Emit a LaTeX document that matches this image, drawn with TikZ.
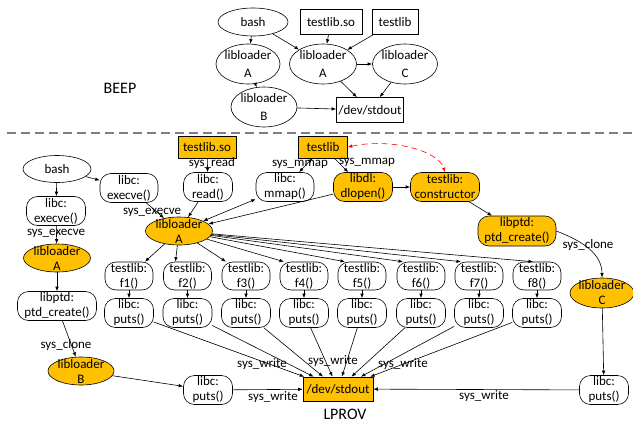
\documentclass[tikz,border=0pt]{standalone}
\usepackage{fontspec}
\setmainfont{Carlito}
\usetikzlibrary{arrows.meta,calc,shapes.geometric}
\definecolor{gold}{HTML}{FFC000}
\definecolor{sepgray}{HTML}{7F7F7F}
\tikzset{
  base/.style={draw=black, line width=0.6pt, font=\fontsize{13}{15}\selectfont, inner sep=0pt, align=center},
  ell/.style={base, ellipse, fill=white},
  stad/.style={base, rectangle, rounded corners=11pt, fill=white, minimum height=29pt},
  sqbox/.style={base, rectangle, fill=white, minimum height=24pt},
  goldfill/.style={fill=gold},
  txt/.style={font=\fontsize{13}{15}\selectfont, inner sep=0pt, align=center},
  toptxt/.style={font=\fontsize{13}{18}\selectfont, inner sep=0pt, align=center},
  title/.style={font=\fontsize{16}{18}\selectfont, inner sep=0pt},
  arr/.style={-{Latex[length=4.5pt,width=3.5pt]}, line width=0.6pt},
  darr/.style={{Latex[length=4.5pt,width=3.5pt]}-{Latex[length=4.5pt,width=3.5pt]}, line width=0.6pt},
}
\begin{document}
\begin{tikzpicture}[x=1pt,y=-1pt]
\useasboundingbox (0,0) rectangle (633,426);

% ---------------- BEEP (top) ----------------
\node[ell, minimum width=70pt, minimum height=28pt] (tbash) at (253,22) {};
\node[txt] (tbasht) at (tbash) {bash};
\node[sqbox, minimum width=62pt, minimum height=25pt] (tso) at (331,22) {testlib.so};
\node[sqbox, minimum width=46pt, minimum height=25pt] (ttl) at (395,22) {testlib};
\node[ell, minimum width=64pt, minimum height=40pt] (tA1) at (248,64) {};
\node[toptxt] (tA1t) at (tA1) {libloader\\A};
\node[ell, minimum width=67pt, minimum height=40pt] (tA2) at (323,64) {};
\node[toptxt] (tA2t) at (tA2) {libloader\\A};
\node[ell, minimum width=65pt, minimum height=40pt] (tC) at (405,64) {};
\node[toptxt] (tCt) at (tC) {libloader\\C};
\node[ell, minimum width=66pt, minimum height=40pt] (tB) at (264,107) {};
\node[toptxt] (tBt) at (tB) {libloader\\B};
\node[sqbox, minimum width=67pt, minimum height=25pt] (tout) at (370,110) {/dev/stdout};
\node[title] (beep) at (120,88) {BEEP};

\draw[arr] (tbash) -- (tA1);
\draw[arr] (tbash) -- (tA2);
\draw[arr] (tso) -- (tA2);
\draw[arr] (ttl) -- (tA2);
\draw[arr] (tA2) -- (tC);
\draw[arr] (tA1) -- (tB);
\draw[arr] (tB) -- (tout);
\draw[arr] (tA2) -- (tout);
\draw[arr] (tC) -- (tout);

% separator
\coordinate (sepL) at (7,133);
\coordinate (sepR) at (633,133);
\draw[sepgray, line width=1.2pt, dash pattern=on 9pt off 5pt] (sepL) -- (sepR);

% ---------------- LPROV (bottom) ----------------
\node[ell, minimum width=68pt, minimum height=27pt] (bash) at (57,169) {};
\node[txt] (basht) at (bash) {bash};
\node[stad, minimum width=59pt] (ex1) at (56,211) {libc:\\execve()};
\node[txt] (lex1) at (56,233) {sys\_execve};
\node[ell, goldfill, minimum width=67pt, minimum height=28pt] (LA1) at (57,258) {};
\node[txt] (LA1t) at (LA1) {libloader\\A};
\node[stad, minimum width=79pt] (pc1) at (57,306) {libptd:\\ptd\_create()};
\node[txt] (lcl1) at (66,345) {sys\_clone};
\node[ell, goldfill, minimum width=66pt, minimum height=28pt] (LB) at (81,371) {};
\node[txt] (LBt) at (LB) {libloader\\B};
\node[stad, minimum width=49pt] (putsB) at (208,390) {libc:\\puts()};
\node[txt] (lwB) at (273,397) {sys\_write};
\node[sqbox, goldfill, minimum width=70pt, minimum height=24pt] (out) at (338,389) {/dev/stdout};
\node[title] (lprov) at (345,414) {LPROV};

\node[stad, minimum width=58pt] (ex2) at (129,188) {libc:\\execve()};
\node[txt] (lex2) at (152,212) {sys\_execve};
\node[ell, goldfill, minimum width=67pt, minimum height=28pt] (LA) at (179,231) {};
\node[txt] (LAt) at (LA) {libloader\\A};
\node[sqbox, goldfill, minimum width=58pt, minimum height=22pt] (tso2) at (207,147) {testlib.so};
\node[stad, minimum width=49pt] (rd) at (208,187) {libc:\\read()};
\node[txt] (lrd) at (212,163) {sys\_read};
\node[stad, minimum width=58pt] (mm) at (285,187) {libc:\\mmap()};
\node[sqbox, goldfill, minimum width=49pt, minimum height=22pt] (tl2) at (323,147) {testlib};
\node[txt] (lmm1) at (300,164) {sys\_mmap};
\node[txt] (lmm2) at (367,162) {sys\_mmap};
\node[stad, goldfill, minimum width=59pt] (dl) at (363,187) {libdl:\\dlopen()};
\node[stad, goldfill, minimum width=69pt] (ctor) at (445,187) {testlib:\\constructor};
\node[stad, goldfill, minimum width=78pt, minimum height=30pt] (pc2) at (517,231) {libptd:\\ptd\_create()};
\node[txt] (lcl2) at (588,245) {sys\_clone};
\node[ell, goldfill, minimum width=64pt, minimum height=30pt] (LC) at (602,293) {};
\node[txt] (LCt) at (LC) {libloader\\C};
\node[stad, minimum width=49pt] (putsC) at (604,390) {libc:\\puts()};
\node[txt] (lwC) at (484,396) {sys\_write};

\foreach \i/\xx in {1/129,2/187.5,3/246,4/304,5/362,6/421,7/479,8/537}{
  \node[stad, minimum width=48pt, minimum height=28pt] (f\i) at (\xx,276) {testlib:\\f\i()};
  \node[stad, minimum width=49pt] (p\i) at (\xx,313) {libc:\\puts()};
  \draw[arr] (f\i) -- (p\i);
  \draw[arr] (p\i) -- (out);
}
\node[txt] (lw1) at (262,364) {sys\_write};
\node[txt] (lw2) at (333,361) {sys\_write};
\node[txt] (lw3) at (403,364) {sys\_write};

% edges
\draw[arr] (bash) -- (ex1);
\draw[arr] (bash) -- (ex2);
\draw[arr] (ex1) -- (LA1);
\draw[arr] (ex2) -- (LA);
\draw[arr] (LA1) -- (pc1);
\draw[arr] (pc1) -- (LB);
\draw[arr] (LB) -- (putsB);
\draw[arr] (putsB) -- (out);
\draw[arr] (tso2) -- (rd);
\draw[arr] (rd) -- (LA);
\draw[darr] (LA) -- (mm);
\draw[darr] (mm) -- (tl2);
\draw[arr] (tl2) -- (dl);
\draw[arr] (dl) -- (LA);
\draw[arr] (dl) -- (ctor);
\draw[arr] (ctor) -- (pc2);
\draw[arr] (pc2.east) .. controls (585,242) and (602,255) .. (LC.north);
\draw[arr] (LC) -- (putsC);
\draw[arr] (putsC) -- (out);
\draw[darr, red, dash pattern=on 6pt off 4pt] (tl2.east) .. controls (390,138) and (438,150) .. (ctor.north);

\draw[arr] (LA) -- (f1);
\draw[arr] (LA) -- ([xshift=-12pt]f2.north);
\draw[arr] (LA) -- ([xshift=-20pt]f3.north);
\draw[arr] (LA) -- ([xshift=-20pt]f4.north);
\draw[arr] (LA) -- ([xshift=-17pt]f5.north);
\draw[arr] (LA) -- ([xshift=-18pt]f6.north);
\draw[arr] (LA) -- ([xshift=-18pt]f7.north);
\draw[arr] (LA) -- ([xshift=-4pt]f8.north);
\end{tikzpicture}
\end{document}
